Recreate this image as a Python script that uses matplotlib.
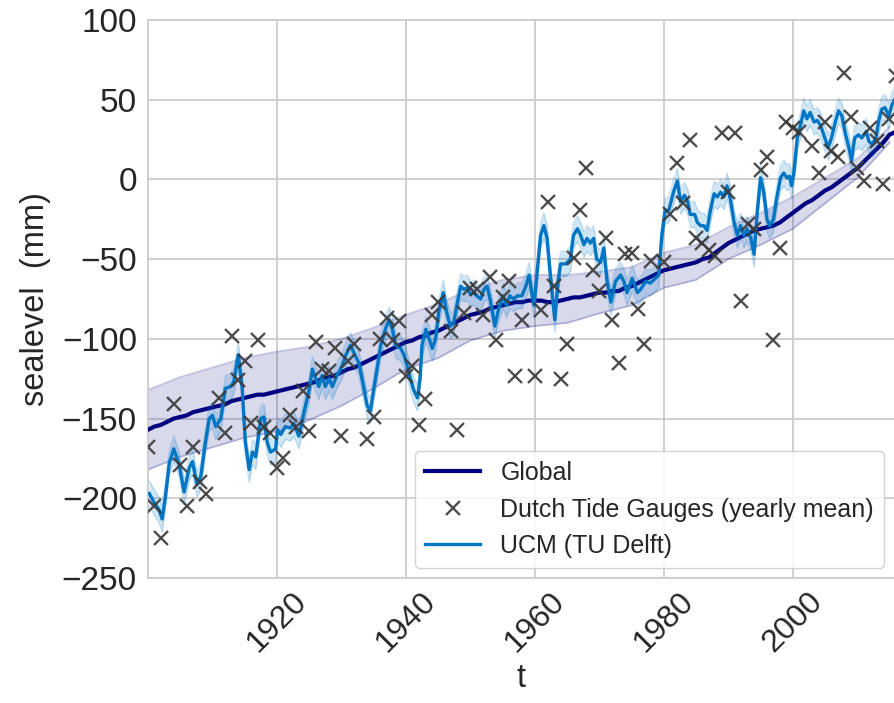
import numpy as np
import matplotlib
matplotlib.use("Agg")
import matplotlib.pyplot as plt

# global mean sea level (mm), one value per year 1900..2016
global_years = np.arange(1900, 2017)
global_mm = np.array([
    -157, -155, -154, -152, -150, -149, -148, -146, -145, -144,
    -143, -142, -141, -139, -138, -137, -136, -135, -135, -134,
    -133, -132, -131, -130, -129, -128, -127, -125, -124, -123,
    -121, -119, -118, -116, -114, -112, -110, -108, -106, -104,
    -102, -101, -99, -98, -96, -95, -93, -91, -89, -87,
    -85, -84, -83, -81, -80, -79, -78, -77, -77, -76,
    -76, -76, -77, -77, -76, -75, -74, -74, -73, -72,
    -71, -71, -70, -70, -68, -67, -65, -63, -61, -59,
    -57, -56, -55, -54, -53, -52, -50, -49, -46, -43,
    -40, -38, -36, -34, -32, -31, -30, -29, -27, -24,
    -21, -18, -15, -13, -10, -7, -5, -2, 1, 4,
    7, 11, 15, 19, 23, 28, 30,
])

# uncertainty band of the global series (half width, mm), every 5 years
band_years = np.arange(1900, 2016, 5)
band_half = np.array([25, 25, 25, 25, 25, 23, 21, 19, 17, 17, 16, 16,
                      16, 15, 13, 12, 11, 11, 10, 10, 10, 8, 6, 5])

# Dutch tide gauges, yearly mean (mm)
gauge_years = [
    1900, 1901, 1902, 1904, 1905, 1906, 1907, 1908, 1909, 1911,
    1912, 1913, 1914, 1915, 1916, 1917, 1918, 1919, 1920, 1921,
    1922, 1923, 1924, 1925, 1926, 1927, 1928, 1929, 1930, 1931,
    1932, 1934, 1935, 1936, 1937, 1938, 1939, 1940, 1941, 1942,
    1943, 1944, 1945, 1947, 1948, 1949, 1950, 1951, 1952, 1953,
    1954, 1955, 1956, 1957, 1958, 1960, 1961, 1962, 1963, 1964,
    1965, 1966, 1967, 1968, 1969, 1970, 1971, 1972, 1973, 1974,
    1975, 1976, 1977, 1978, 1980, 1981, 1982, 1983, 1984, 1985,
    1986, 1987, 1988, 1989, 1990, 1991, 1992, 1993, 1994, 1995,
    1996, 1997, 1998, 1999, 2000, 2001, 2003, 2004, 2005, 2006,
    2007, 2008, 2009, 2010, 2011, 2012, 2013, 2014, 2015, 2016,
]
gauge_mm = [
    -168, -205, -225, -141, -179, -205, -168, -190, -197, -137,
    -159, -98, -126, -114, -153, -101, -155, -159, -181, -175,
    -148, -155, -133, -158, -102, -119, -120, -106, -161, -114,
    -103, -163, -149, -100, -87, -101, -89, -123, -117, -154,
    -138, -85, -77, -95, -157, -84, -68, -69, -85, -61,
    -101, -74, -64, -123, -88, -123, -82, -14, -67, -125,
    -103, -49, -19, 7, -57, -70, -37, -88, -115, -47,
    -46, -81, -103, -51, -52, -22, 10, -15, 25, -37,
    -40, -44, -48, 29, -8, 29, -76, -28, -31, 6,
    14, -101, -43, 36, 32, 30, 21, 4, 36, 18,
    14, 67, 39, 7, -1, 32, 24, -3, 38, 65,
]

# UCM (TU Delft) model
ucm_t = [
    1900.2, 1901.0, 1901.7, 1902.2, 1902.7, 1903.3, 1904.0, 1904.8, 1905.6, 1906.4,
    1906.9, 1907.6, 1908.2, 1908.9, 1909.5, 1910.0, 1910.5, 1911.3, 1912.0, 1912.8,
    1913.3, 1914.0, 1914.6, 1915.1, 1915.7, 1916.2, 1916.7, 1917.5, 1918.0, 1918.5,
    1919.0, 1919.8, 1920.1, 1920.6, 1921.3, 1922.1, 1922.6, 1923.4, 1924.2, 1925.0,
    1925.5, 1926.0, 1926.5, 1927.0, 1927.5, 1928.1, 1928.6, 1929.3, 1930.1, 1930.6,
    1931.4, 1932.2, 1932.7, 1933.2, 1934.0, 1934.5, 1935.0, 1935.6, 1936.1, 1936.9,
    1937.4, 1937.9, 1938.4, 1939.2, 1939.7, 1940.2, 1940.7, 1941.2, 1941.8, 1942.2,
    1942.5, 1943.1, 1943.6, 1944.1, 1944.6, 1945.1, 1945.8, 1946.3, 1946.9, 1947.4,
    1948.0, 1948.5, 1949.0, 1949.5, 1950.0, 1950.5, 1951.0, 1951.6, 1952.1, 1952.6,
    1953.1, 1953.8, 1954.4, 1955.1, 1955.6, 1956.1, 1956.7, 1957.3, 1958.0, 1958.6,
    1959.1, 1959.6, 1959.9, 1960.4, 1960.9, 1961.4, 1961.9, 1962.4, 1963.1, 1963.6,
    1964.0, 1964.8, 1965.5, 1966.0, 1966.6, 1967.1, 1967.6, 1968.1, 1968.6, 1969.1,
    1969.6, 1970.2, 1970.7, 1971.2, 1971.8, 1972.5, 1973.3, 1973.8, 1974.3, 1975.1,
    1975.9, 1976.4, 1977.2, 1977.9, 1978.7, 1979.2, 1979.7, 1980.2, 1980.8, 1981.5,
    1982.1, 1982.6, 1983.2, 1983.7, 1984.1, 1984.8, 1985.2, 1985.7, 1986.2, 1986.7,
    1987.2, 1987.8, 1988.3, 1988.8, 1989.3, 1989.8, 1990.3, 1990.9, 1991.4, 1991.9,
    1992.4, 1992.9, 1993.5, 1994.0, 1994.5, 1995.0, 1995.5, 1996.0, 1996.4, 1997.0,
    1997.5, 1998.1, 1998.6, 1999.1, 1999.5, 1999.8, 2000.2, 2000.7, 2001.2, 2001.7,
    2002.2, 2002.7, 2003.3, 2003.8, 2004.3, 2004.8, 2005.5, 2006.0, 2006.6, 2007.1,
    2007.6, 2008.2, 2008.7, 2009.1, 2009.6, 2010.2, 2010.7, 2011.4, 2011.8, 2012.3,
    2012.9, 2013.3, 2013.8, 2014.3, 2014.9, 2015.4, 2015.8,
]
ucm_mm = [
    -197, -203, -207, -213, -199, -178, -169, -178, -196, -181,
    -177, -191, -186, -165, -150, -148, -155, -150, -131, -130,
    -127, -110, -130, -165, -182, -171, -174, -150, -149, -165,
    -171, -169, -157, -160, -155, -156, -153, -161, -146, -132,
    -119, -125, -130, -123, -130, -125, -130, -123, -117, -111,
    -104, -111, -115, -125, -142, -145, -132, -117, -104, -93,
    -88, -94, -104, -106, -110, -117, -125, -132, -137, -125,
    -104, -94, -100, -106, -100, -83, -71, -83, -92, -90,
    -77, -67, -69, -68, -72, -71, -73, -75, -69, -67,
    -76, -92, -81, -73, -79, -73, -75, -73, -73, -67,
    -60, -73, -79, -56, -35, -29, -37, -60, -88, -64,
    -53, -53, -50, -35, -31, -35, -41, -37, -40, -37,
    -50, -52, -43, -64, -77, -64, -60, -64, -71, -62,
    -71, -69, -64, -65, -62, -60, -35, -20, -19, -8,
    -1, -14, -10, -14, -22, -22, -27, -29, -29, -32,
    -20, -9, -11, -8, -11, -4, -12, -27, -35, -29,
    -35, -31, -37, -47, -20, 1, -8, -25, -29, -25,
    -12, 1, 4, 1, 2, -4, 5, 26, 34, 43,
    38, 42, 36, 37, 34, 28, 20, 26, 36, 43,
    40, 28, 20, 12, 26, 28, 26, 30, 24, 22,
    26, 36, 44, 45, 40, 47, 50,
]
ucm_half = 8  # half width of the UCM uncertainty band (mm)

NAVY = "#000080"
UCM_BLUE = "#0075c4"

plt.rcParams["font.family"] = ["Liberation Sans", "DejaVu Sans"]

fig = plt.figure(figsize=(8.94, 7.03), dpi=100)
ax = fig.add_axes([0.1655, 0.1778, 0.8345, 0.7938])

ax.grid(True, color="#cccccc", linewidth=1.3, zorder=0)
ax.set_axisbelow(True)
for side in ["left", "bottom", "top"]:
    ax.spines[side].set_color("#cccccc")
    ax.spines[side].set_linewidth(1.3)
ax.spines["right"].set_visible(False)

# global band + line
g_at_band = global_mm[band_years - 1900]
lo = g_at_band - band_half
hi = g_at_band + band_half
ax.fill_between(band_years, lo, hi, color=NAVY, alpha=0.15, linewidth=0, zorder=2)
ax.plot(band_years, lo, color=NAVY, alpha=0.22, lw=1.3, zorder=2)
ax.plot(band_years, hi, color=NAVY, alpha=0.22, lw=1.3, zorder=2)
ax.plot(global_years, global_mm, color=NAVY, lw=3.0, label="Global", zorder=3)

# UCM band + line
ucm_arr = np.array(ucm_mm)
ax.fill_between(ucm_t, ucm_arr - ucm_half, ucm_arr + ucm_half,
                color=UCM_BLUE, alpha=0.18, linewidth=0, zorder=4)
ax.plot(ucm_t, ucm_arr - ucm_half, color=UCM_BLUE, alpha=0.2, lw=1.0, zorder=4)
ax.plot(ucm_t, ucm_arr + ucm_half, color=UCM_BLUE, alpha=0.2, lw=1.0, zorder=4)
ax.plot(ucm_t, ucm_arr, color=UCM_BLUE, lw=2.4, label="UCM (TU Delft)", zorder=5)

# tide gauges
ax.plot(gauge_years, gauge_mm, linestyle="none", marker="x", markersize=10,
        markeredgewidth=1.7, color="#3a3a3a", alpha=0.9,
        label="Dutch Tide Gauges (yearly mean)", zorder=6)

ax.set_xlim(1900, 2015.7)
ax.set_ylim(-250, 100)
ax.set_xticks([1920, 1940, 1960, 1980, 2000])
ax.set_yticks(np.arange(-250, 101, 50))
ax.tick_params(axis="y", labelsize=24, length=0, colors="#262626", pad=8)
ax.tick_params(axis="x", labelsize=23, length=0, colors="#262626", pad=6)
plt.setp(ax.get_xticklabels(), rotation=45)

ax.set_xlabel("t", fontsize=23.5, color="#262626", labelpad=4)
ax.set_ylabel("sealevel  (mm)", fontsize=23.5, color="#262626", labelpad=8)

handles, labels = ax.get_legend_handles_labels()
order = [0, 2, 1]
leg = ax.legend([handles[i] for i in order], [labels[i] for i in order],
                loc="lower right", fontsize=18, frameon=True, framealpha=0.85,
                edgecolor="#cccccc", borderaxespad=0.4, handlelength=2.2)
leg.set_zorder(10)
for t in leg.get_texts():
    t.set_color("#262626")

fig.savefig("out.png", dpi=100)
